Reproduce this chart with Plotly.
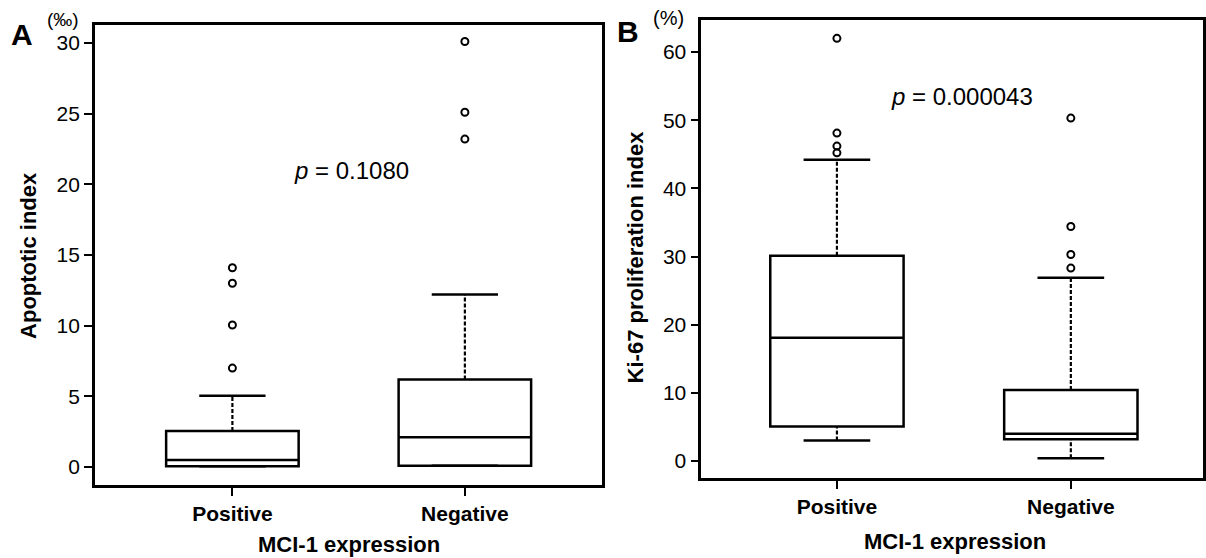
import plotly.graph_objects as go

# ---------------- data ----------------
groups = ["Positive", "Negative"]

# Panel A: Apoptotic index (‰)
a_lowfence = [0.05, 0.1]
a_q1 = [0.05, 0.1]
a_median = [0.5, 2.1]
a_q3 = [2.55, 6.2]
a_upfence = [5.05, 12.2]
a_outliers_pos = [7.0, 10.05, 13.0, 14.1]
a_outliers_neg = [23.2, 25.1, 30.1]
a_ticks = [0, 5, 10, 15, 20, 25, 30]

# Panel B: Ki-67 proliferation index (%)
b_lowfence = [3.0, 0.4]
b_q1 = [5.05, 3.2]
b_median = [18.1, 4.0]
b_q3 = [30.1, 10.4]
b_upfence = [44.2, 26.9]
b_outliers_pos = [45.2, 46.2, 48.1, 62.0]
b_outliers_neg = [28.3, 30.3, 34.4, 50.3]
b_ticks = [0, 10, 20, 30, 40, 50, 60]

p_text_a = "<i>p</i> = 0.1080"
p_text_b = "<i>p</i> = 0.000043"

# ---------------- styling ----------------
FONT = "Liberation Sans, Arial, sans-serif"
BOX_W = 0.57
CAP_HALF = BOX_W * 0.25
LW = 2.5
W, H = 1206, 558

fig = go.Figure()


def add_panel(xref, yref, lowf, q1, med, q3, upf, outs):
    for i, g in enumerate(groups):
        pos = i + 1
        fig.add_trace(go.Box(
            x=[pos], q1=[q1[i]], median=[med[i]], q3=[q3[i]],
            lowerfence=[q1[i]], upperfence=[q3[i]],
            width=BOX_W, whiskerwidth=0, boxpoints=False,
            line=dict(color="black", width=LW), fillcolor="white",
            xaxis=xref, yaxis=yref, showlegend=False, hoverinfo="skip"))
        # dashed whiskers
        for a, b in ((q3[i], upf[i]), (lowf[i], q1[i])):
            if a == b:
                continue
            fig.add_trace(go.Scatter(
                x=[pos, pos], y=[a, b], mode="lines",
                line=dict(color="black", width=2.2, dash="4px,2px"),
                xaxis=xref, yaxis=yref, showlegend=False, hoverinfo="skip"))
        # caps
        for v in (upf[i], lowf[i]):
            fig.add_trace(go.Scatter(
                x=[pos - CAP_HALF, pos + CAP_HALF], y=[v, v], mode="lines",
                line=dict(color="black", width=LW),
                xaxis=xref, yaxis=yref, showlegend=False, hoverinfo="skip"))
        # outliers
        fig.add_trace(go.Scatter(
            x=[pos] * len(outs[i]), y=outs[i], mode="markers",
            marker=dict(symbol="circle-open", size=7, color="black",
                        line=dict(width=2, color="black")),
            xaxis=xref, yaxis=yref, showlegend=False, hoverinfo="skip"))


add_panel("x", "y", a_lowfence, a_q1, a_median, a_q3, a_upfence,
          [a_outliers_pos, a_outliers_neg])
add_panel("x2", "y2", b_lowfence, b_q1, b_median, b_q3, b_upfence,
          [b_outliers_pos, b_outliers_neg])


def py(px):
    return (H - px) / H


def pxx(px):
    return px / W


line_common = dict(showline=True, linecolor="black", linewidth=LW, mirror=True,
                   showgrid=False, zeroline=False, ticks="outside",
                   tickcolor="black", tickwidth=2, ticklen=8)
xfont = dict(family=FONT, size=21, color="black")
yfont = dict(family=FONT, size=21, color="black")
xticktext = ["<b>%s</b>" % g for g in groups]

fig.update_layout(
    width=W, height=H,
    margin=dict(l=0, r=0, t=0, b=0),
    paper_bgcolor="white", plot_bgcolor="white",
    font=dict(family=FONT, color="black"),
    xaxis=dict(domain=[pxx(95), pxx(604)], range=[0.408, 2.592],
               tickvals=[1, 2], ticktext=xticktext, tickfont=xfont,
               anchor="y", **line_common),
    yaxis=dict(domain=[py(485), py(25)], range=[-1.27, 31.27],
               tickvals=a_ticks, tickfont=yfont, anchor="x", **line_common),
    xaxis2=dict(domain=[pxx(703), 1.0], range=[0.42, 2.565],
                tickvals=[1, 2], ticktext=xticktext, tickfont=xfont,
                anchor="y2", **line_common),
    yaxis2=dict(domain=[py(478), py(20)], range=[-2.49, 64.69],
                tickvals=b_ticks, tickfont=yfont, anchor="x2", **line_common),
)


def A(x, y, text, size, xref="paper", yref="paper", angle=0):
    return dict(x=x, y=y, xref=xref, yref=yref, text=text, showarrow=False,
                xanchor="center", yanchor="middle", textangle=angle,
                font=dict(family=FONT, size=size, color="black"))


ann = [
    A(1.511, 21.0, p_text_a, 24, "x", "y"),
    A(1.533, 53.4, p_text_b, 24, "x2", "y2"),
    A(pxx(22), py(35), "<b>A</b>", 30),
    A(pxx(63), py(19), "(‰)", 19),
    A(pxx(630), py(31), "<b>B</b>", 30),
    A(pxx(670), py(18), "(%)", 20),
    A(pxx(28), py(255), "<b>Apoptotic index</b>", 22, angle=-90),
    A(pxx(637), py(257), "<b>Ki-67 proliferation index</b>", 22, angle=-90),
    A(pxx(350), py(544), "<b>MCI-1 expression</b>", 22),
    A(pxx(957), py(541), "<b>MCI-1 expression</b>", 22),
]
fig.update_layout(annotations=ann)

fig.write_html("out.html",
               config={"displayModeBar": False},
               post_script="document.body.style.margin='0';document.body.style.overflow='hidden';")
